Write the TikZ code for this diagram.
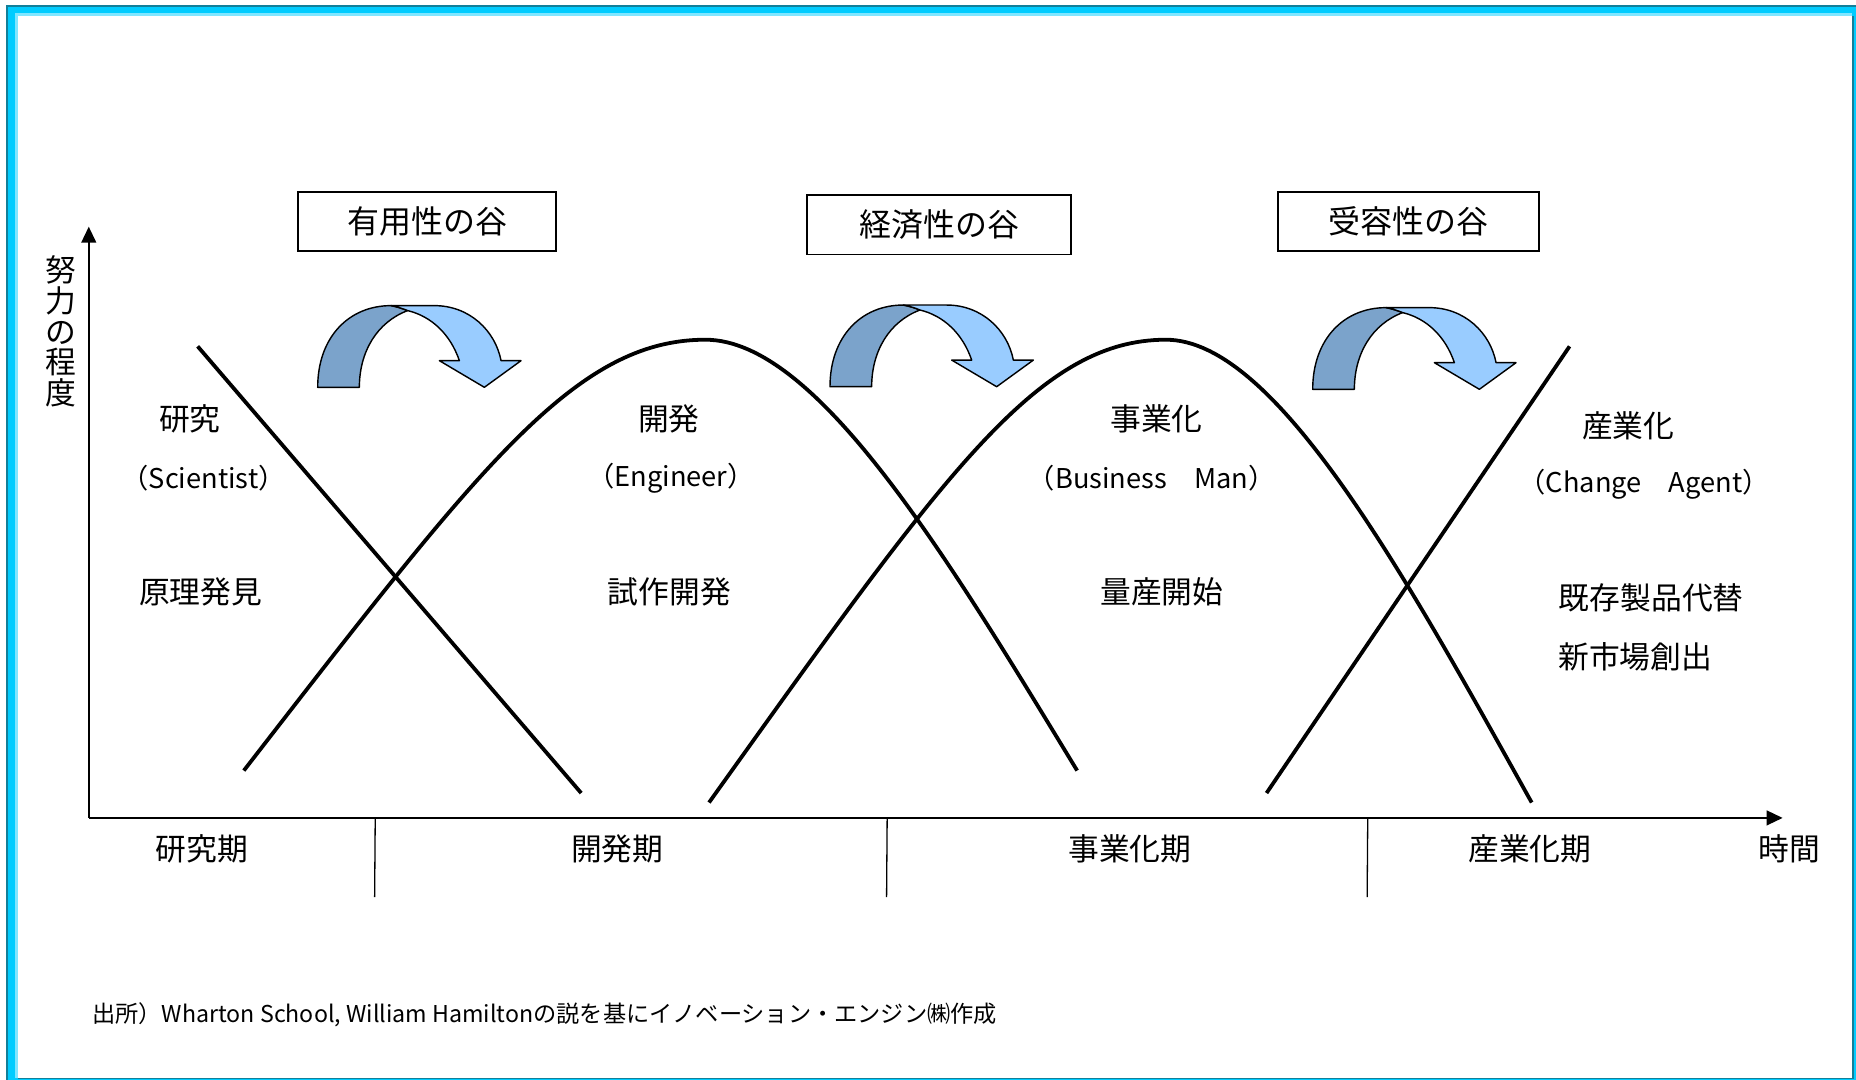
\documentclass[tikz,border=0pt]{standalone}
\usepackage{fontspec}
\newfontfamily\jp{Noto Sans CJK JP}
\usetikzlibrary{arrows.meta}
\definecolor{frameC}{HTML}{00CCFF}
\definecolor{frameD}{HTML}{127F99}
\definecolor{frameL}{HTML}{80E6FF}
\definecolor{arrDark}{HTML}{7BA3CB}
\definecolor{arrLight}{HTML}{99CCFF}
\begin{document}
\begin{tikzpicture}[x=1pt,y=-1pt,
  every node/.style={inner sep=0pt,outer sep=0pt},
  lbl/.style={font=\jp\fontsize{26}{26}\selectfont},
  sublbl/.style={font=\jp\fontsize{23}{26}\selectfont},
  valleybox/.style={draw,line width=1.5pt,font=\jp\fontsize{27}{27}\selectfont,minimum height=50pt},
  axisline/.style={line width=1.5pt,-{Triangle[length=13.5pt,width=12.5pt]}},
  tickline/.style={line width=1.1pt},
  curveline/.style={line width=3.2pt},
  valarrow/.pic={
    \filldraw[fill=arrDark,draw=black,line width=1.2pt,line join=round]
      (0,0) .. controls (0,-42) and (26,-69) .. (62,-69)
      .. controls (67,-68) and (72,-66.5) .. (76,-64.8)
      .. controls (50,-55) and (35.2,-30) .. (35.2,0) -- cycle;
    \filldraw[fill=arrLight,draw=black,line width=1.2pt,line join=round]
      (62,-69) -- (98.6,-69) .. controls (128,-69) and (150,-48) .. (154.9,-22.5)
      -- (171.8,-22.5) -- (140.8,0) -- (102.8,-22.5) -- (119.7,-22.5)
      .. controls (112,-45) and (96,-60) .. (76,-64.8)
      .. controls (72,-66.5) and (67,-68) .. (62,-69) -- cycle;
  }]
\useasboundingbox (0,0) rectangle (1568,912);
% frame
\fill[frameC] (5.1,4.2) rectangle (1568,912);
\fill[frameD] (5.1,4.2) rectangle (1568,5.9);
\fill[frameD] (5.1,4.2) rectangle (6.8,912);
\fill[frameL] (12.7,11.2) rectangle (1564.3,13.5);
\fill[frameL] (12.7,11.2) rectangle (15.2,910.4);
\fill[white] (15.2,13.5) rectangle (1564.3,910.4);
\fill[frameD] (1564.3,13.5) rectangle (1566.5,911.8);
\fill[frameD] (15.2,910.4) rectangle (1566.5,911.8);

% axes
\coordinate (O) at (75,691);
\coordinate (Ytop) at (75,191.5);
\coordinate (Xend) at (1506,691);
\draw[axisline] (O) -- (Ytop);
\draw[axisline] (O) -- (Xend);

% ticks
\coordinate (t1a) at (317,691); \coordinate (t1b) at (316.5,758);
\coordinate (t2a) at (749.5,691); \coordinate (t2b) at (749,758);
\coordinate (t3a) at (1155.5,691); \coordinate (t3b) at (1155,758);
\draw[tickline] (t1a) -- (t1b);
\draw[tickline] (t2a) -- (t2b);
\draw[tickline] (t3a) -- (t3b);

% curves
\draw[curveline] (167,292.6) -- (491,670);
\draw[curveline] (206,651) .. controls (406,393) and (486,287) .. (596,287)
  .. controls (690,287) and (800,470) .. (910,651);
\draw[curveline] (599,678) .. controls (797,401) and (876,287) .. (985,287)
  .. controls (1077.5,287) and (1185.7,483.6) .. (1294,678);
\draw[curveline] (1070,670) -- (1326,292.6);

% valley arrows
\pic at (268.4,327.2) {valarrow};
\pic at (701.2,326.7) {valarrow};
\pic at (1109,328.9) {valarrow};

% valley boxes
\node[valleybox,minimum width=218pt] (b1) at (361,187) {有用性の谷};
\node[valleybox,minimum width=223pt] (b2) at (793.5,190) {経済性の谷};
\node[valleybox,minimum width=220pt] (b3) at (1190,187) {受容性の谷};

% y label
\node[font=\jp\fontsize{26}{26}\selectfont,align=center] (ylab) at (51.5,280) {努\\力\\の\\程\\度};

% phase texts
\node[lbl] (p1a) at (160.5,354) {研究};
\node[sublbl] (p1b) at (172,404) {（Scientist）};
\node[lbl] (p1c) at (169.5,500) {原理発見};
\node[lbl] (p2a) at (565,354) {開発};
\node[sublbl] (p2b) at (567,404) {（Engineer）};
\node[lbl] (p2c) at (565.5,500) {試作開発};
\node[lbl] (p3a) at (977,354) {事業化};
\node[sublbl] (p3b) at (973,404) {（Business　Man）};
\node[lbl] (p3c) at (981.5,500) {量産開始};
\node[lbl] (p4a) at (1375.5,360) {産業化};
\node[sublbl] (p4b) at (1389,409) {（Change　Agent）};
\node[lbl] (p4c) at (1395,505) {既存製品代替};
\node[lbl] (p4d) at (1381.5,555) {新市場創出};

% period labels
\node[lbl] (q1) at (170.5,717) {研究期};
\node[lbl] (q2) at (521.5,717) {開発期};
\node[lbl] (q3) at (954.5,717) {事業化期};
\node[lbl] (q4) at (1292.5,717) {産業化期};
\node[lbl] (q5) at (1512,717) {時間};

% footer
\node[font=\jp\fontsize{19.6}{20}\selectfont,anchor=west] (src) at (78,857) {出所）Wharton School, William Hamiltonの説を基にイノベーション・エンジン㈱作成};
\end{tikzpicture}
\end{document}
